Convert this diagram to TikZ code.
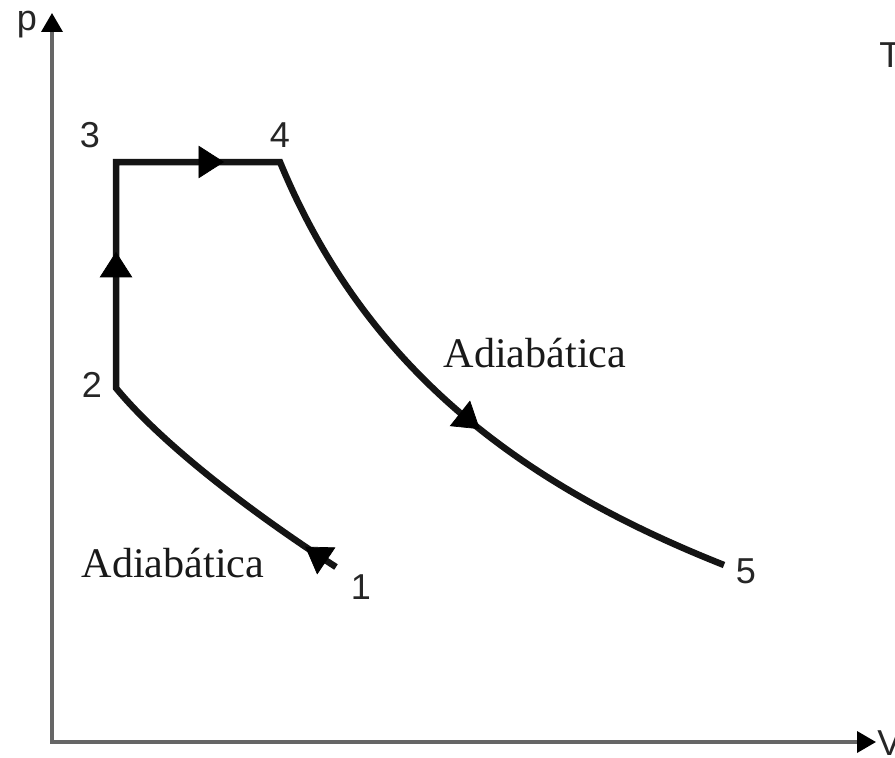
\documentclass[tikz,border=0pt]{standalone}
\usepackage{fontspec}
\setmainfont{Liberation Serif}
\setsansfont{Liberation Sans}
\usetikzlibrary{arrows.meta,decorations.markings}
\begin{document}
\begin{tikzpicture}[x=0.02cm,y=-0.02cm,
  axis/.style={draw=black!60, line width=1.9pt},
  cyc/.style={line width=3.7pt, line join=miter, draw=black!92},
  num/.style={font=\sffamily\fontsize{20.5}{24}\selectfont, inner sep=0pt, text=black!85},
  lab/.style={font=\rmfamily\fontsize{24}{28}\selectfont, inner sep=0pt, anchor=base, text=black!90},
  tipmark/.style={postaction={decorate}, decoration={markings, mark=at position #1 with {\arrow{Triangle[length=14.5pt,width=18.5pt]}}}}
]
\useasboundingbox (0,0) rectangle (895,757);
\clip (0,0) rectangle (895,757);
\fill[white] (0,0) rectangle (895,757);

% axes
\coordinate (O) at (52,742);
\coordinate (ptip) at (52,13);
\coordinate (Vtip) at (876,742);
\draw[axis, {Triangle[length=10.8pt,width=12pt,color=black]}-{Triangle[length=10.8pt,width=12pt,color=black]}] (ptip) -- (O) -- (Vtip);

% state points
\coordinate (P1) at (336,567);
\coordinate (P2) at (116,388);
\coordinate (P3) at (116,162);
\coordinate (P4) at (280,162);
\coordinate (P5) at (724,565);

% cycle
\draw[cyc] (P1) .. controls (266,522) and (167,450) .. (P2) -- (P3) -- (P4) .. controls (366,370) and (522,485) .. (P5);

% direction arrows
\path[tipmark=21pt] (P1) .. controls (266,522) and (167,450) .. (P2);
\path[tipmark=77.5pt] (P2) -- (P3);
\path[tipmark=61.5pt] (P3) -- (P4);
\path[tipmark=192pt] (P4) .. controls (366,370) and (522,485) .. (P5);

% labels
\node[num] (l1) at (361,587) {1};
\node[num] (l2) at (92,385) {2};
\node[num] (l3) at (90,135) {3};
\node[num] (l4) at (280,135) {4};
\node[num] (l5) at (746,571) {5};
\node[num, anchor=base] (lp) at (27,31) {p};
\node[num, anchor=base west] (lT) at (879,68) {T};
\node[num, anchor=base west] (lV) at (877,755) {V};
\node[lab] (a1) at (535,367) {Adiabática};
\node[lab] (a2) at (173,577) {Adiabática};
\end{tikzpicture}
\end{document}
